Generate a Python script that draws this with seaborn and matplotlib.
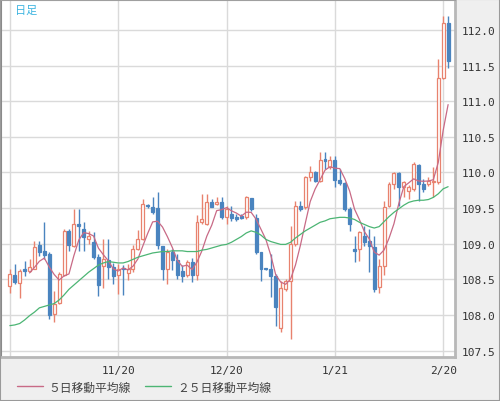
import numpy as np
import pandas as pd
import matplotlib
matplotlib.use("Agg")
import matplotlib.pyplot as plt
import seaborn as sns
from matplotlib.lines import Line2D
from matplotlib.patches import Rectangle

### Daily USD/JPY candles, 2019-10-21 .. 2020-02-21 (weekdays)
dates = pd.bdate_range("2019-10-21", "2020-02-21")

opens = [108.41, 108.56, 108.45, 108.64, 108.62, 108.65, 108.98, 108.90, 108.85, 108.01,
         108.17, 108.56, 109.18, 108.97, 109.28, 109.20, 109.06, 109.03, 108.81, 108.69,
         108.77, 108.68, 108.56, 108.66, 108.59, 108.65, 108.93, 109.07, 109.55, 109.51,
         109.50, 108.97, 108.64, 108.88, 108.77, 108.61, 108.56, 108.74, 108.56, 109.30,
         109.28, 109.58, 109.56, 109.59, 109.37, 109.42, 109.38, 109.39, 109.37, 109.64,
         109.36, 108.88, 108.65, 108.64, 108.54, 107.81, 108.37, 108.48, 109.00, 109.53,
         109.51, 109.94, 110.00, 109.88, 110.19, 110.07, 110.17, 109.89, 109.85, 109.49,
         108.93, 108.93, 109.11, 109.04, 108.96, 108.39, 108.69, 109.53, 109.84, 109.99,
         109.80, 109.74, 109.77, 110.10, 109.84, 109.84, 109.86, 109.86, 111.33, 112.10]
highs = [108.64, 108.71, 108.65, 108.76, 108.78, 109.04, 109.04, 109.30, 108.88, 108.34,
         108.60, 109.20, 109.20, 109.49, 109.49, 109.30, 109.18, 109.16, 108.85, 109.06,
         109.06, 108.73, 108.72, 108.70, 108.72, 108.98, 109.19, 109.63, 109.56, 109.65,
         109.73, 108.97, 108.93, 108.93, 108.86, 108.70, 108.77, 108.80, 109.40, 109.70,
         109.70, 109.63, 109.65, 109.65, 109.53, 109.53, 109.42, 109.42, 109.67, 109.64,
         109.42, 108.88, 108.66, 108.85, 108.57, 108.48, 108.50, 109.25, 109.60, 109.60,
         109.95, 110.09, 110.02, 110.28, 110.28, 110.23, 110.23, 110.05, 109.86, 109.51,
         109.11, 109.18, 109.25, 109.21, 109.11, 108.79, 109.60, 109.86, 110.00, 110.01,
         109.88, 109.82, 110.14, 110.12, 109.91, 109.93, 110.07, 111.59, 112.20, 112.20]
lows = [108.31, 108.43, 108.24, 108.55, 108.60, 108.64, 108.83, 108.78, 107.94, 107.90,
        108.15, 108.55, 108.90, 108.95, 108.90, 108.90, 108.99, 108.78, 108.27, 108.38,
        108.50, 108.43, 108.30, 108.28, 108.49, 108.60, 108.91, 109.05, 109.50, 109.42,
        108.93, 108.49, 108.44, 108.63, 108.51, 108.46, 108.53, 108.46, 108.49, 109.28,
        109.26, 109.51, 109.54, 109.35, 109.28, 109.32, 109.32, 109.34, 109.35, 109.46,
        108.86, 108.48, 108.63, 108.25, 107.85, 107.76, 108.34, 107.66, 108.97, 109.46,
        109.49, 109.88, 109.86, 109.86, 110.05, 110.05, 109.80, 109.83, 109.46, 109.18,
        108.74, 108.76, 108.97, 108.60, 108.32, 108.31, 108.56, 109.51, 109.77, 109.53,
        109.65, 109.63, 109.74, 109.60, 109.72, 109.81, 109.65, 109.84, 111.31, 111.47]
closes = [108.57, 108.46, 108.62, 108.62, 108.68, 108.96, 108.89, 108.84, 108.00, 108.15,
          108.57, 109.18, 108.98, 109.28, 109.25, 109.09, 109.11, 108.81, 108.42, 108.79,
          108.67, 108.55, 108.65, 108.64, 108.65, 108.93, 109.06, 109.56, 109.53, 109.45,
          108.98, 108.65, 108.88, 108.77, 108.56, 108.55, 108.74, 108.56, 109.30, 109.35,
          109.58, 109.51, 109.58, 109.37, 109.49, 109.36, 109.35, 109.36, 109.65, 109.48,
          108.88, 108.64, 108.64, 108.54, 108.11, 108.38, 108.48, 109.00, 109.53, 109.49,
          109.94, 110.00, 109.88, 110.18, 110.16, 110.18, 109.90, 109.85, 109.49, 109.28,
          108.90, 109.16, 109.02, 108.97, 108.36, 108.69, 109.52, 109.84, 109.99, 109.79,
          109.86, 109.79, 110.12, 109.84, 109.77, 109.88, 109.88, 111.33, 112.10, 111.57]
### 25 day average (needs data from before the window)
ma25 = [107.85, 107.86, 107.88, 107.93, 107.99, 108.04, 108.10, 108.12, 108.14, 108.16,
        108.21, 108.28, 108.36, 108.42, 108.48, 108.54, 108.60, 108.65, 108.70, 108.73,
        108.75, 108.74, 108.73, 108.73, 108.75, 108.78, 108.81, 108.83, 108.85, 108.87,
        108.88, 108.89, 108.89, 108.90, 108.90, 108.90, 108.89, 108.89, 108.89, 108.91,
        108.92, 108.94, 108.96, 108.98, 108.99, 109.02, 109.06, 109.10, 109.15, 109.18,
        109.16, 109.12, 109.06, 109.03, 109.01, 108.99, 108.99, 109.02, 109.08, 109.13,
        109.18, 109.22, 109.26, 109.30, 109.32, 109.35, 109.36, 109.37, 109.37, 109.36,
        109.34, 109.30, 109.27, 109.24, 109.22, 109.24, 109.31, 109.38, 109.44, 109.49,
        109.54, 109.58, 109.60, 109.61, 109.61, 109.62, 109.65, 109.70, 109.77, 109.80]

tick_dates = ["2019-10-21", "2019-11-20", "2019-12-20", "2020-01-21", "2020-02-20"]
tick_labels = ["", "11/20", "12/20", "1/21", "2/20"]
y_ticks = [107.5, 108.0, 108.5, 109.0, 109.5, 110.0, 110.5, 111.0, 111.5, 112.0]

df = pd.DataFrame({"date": dates, "open": opens, "high": highs,
                   "low": lows, "close": closes, "ma25": ma25})
df["i"] = np.arange(len(df))
df["ma5"] = df["close"].rolling(5).mean()

UP = "#e8826e"
DOWN = "#4a84bf"
MA5_C = "#c86a86"
MA25_C = "#4cb574"

sns.set_style("white")
plt.rcParams["font.family"] = ["Noto Sans CJK JP", "DejaVu Sans"]

fig = plt.figure(figsize=(5.0, 4.02), dpi=100, facecolor="#efefef")
ax = fig.add_axes([1/500, 1 - 358/402, 454/500, 357/402])
ax.set_facecolor("white")

### wicks first, bodies on top so hollow bodies hide them
up = df["close"] >= df["open"]
ax.vlines(df.loc[up, "i"], df.loc[up, "low"], df.loc[up, "high"], color=UP, lw=1, zorder=2)
ax.vlines(df.loc[~up, "i"], df.loc[~up, "low"], df.loc[~up, "high"], color=DOWN, lw=1, zorder=2)
body = (df["close"] - df["open"]).abs().clip(lower=0.012)
bottom = df[["open", "close"]].min(axis=1)
ax.bar(df.loc[up, "i"], body[up], bottom=bottom[up], width=0.6,
       facecolor="white", edgecolor=UP, lw=0.9, zorder=3)
ax.bar(df.loc[~up, "i"], body[~up], bottom=bottom[~up], width=0.6,
       facecolor=DOWN, edgecolor=DOWN, lw=0.9, zorder=3)

sns.lineplot(data=df, x="i", y="ma5", ax=ax, color=MA5_C, lw=0.9, zorder=4)
sns.lineplot(data=df, x="i", y="ma25", ax=ax, color=MA25_C, lw=0.9, zorder=4)

ax.set_xlim(-1.8, 90.4)
ax.set_ylim(107.41, 112.42)
xpos = [int(np.where(dates == pd.Timestamp(d))[0][0]) for d in tick_dates]
ax.set_xticks(xpos)
ax.set_xticklabels(tick_labels)
ax.set_yticks(y_ticks)
ax.set_yticklabels([f"{v:.1f}" for v in y_ticks])
ax.yaxis.tick_right()
ax.tick_params(axis="both", length=0, labelsize=8, colors="#333333")
ax.tick_params(axis="x", pad=6)
ax.tick_params(axis="y", pad=5)
for lab in ax.get_xticklabels() + ax.get_yticklabels():
    lab.set_family("DejaVu Sans Mono")
ax.grid(True, color="#dadada", lw=1)
ax.set_axisbelow(True)
ax.set_xlabel("")
ax.set_ylabel("")

ax.spines["left"].set_color("#8a8a8a")
ax.spines["left"].set_linewidth(1.5)
ax.spines["top"].set_color("#a0a0a0")
ax.spines["bottom"].set_color("#b8b8b8")
ax.spines["bottom"].set_linewidth(2)
ax.spines["right"].set_color("#b8b8b8")
ax.spines["right"].set_linewidth(2)

ax.text(14/454, 1 - 10/357, "日足", transform=ax.transAxes, color="#3cb4e0",
        fontsize=8, va="center", ha="left")

### legend at the bottom
handles = [Line2D([], [], color=MA5_C, lw=1), Line2D([], [], color=MA25_C, lw=1)]
fig.legend(handles, ["５日移動平均線", "２５日移動平均線"], loc="center left",
           bbox_to_anchor=(0.012, 1 - 388/402), ncol=2, frameon=False,
           fontsize=8.5, handlelength=2.2, handletextpad=0.5, columnspacing=1.2,
           labelcolor="#444444")

fig.add_artist(Rectangle((0, 0), 1, 1, transform=fig.transFigure, fill=False,
                         edgecolor="#9a9a9a", lw=1.5))

fig.savefig("out.png", dpi=100, facecolor=fig.get_facecolor())
